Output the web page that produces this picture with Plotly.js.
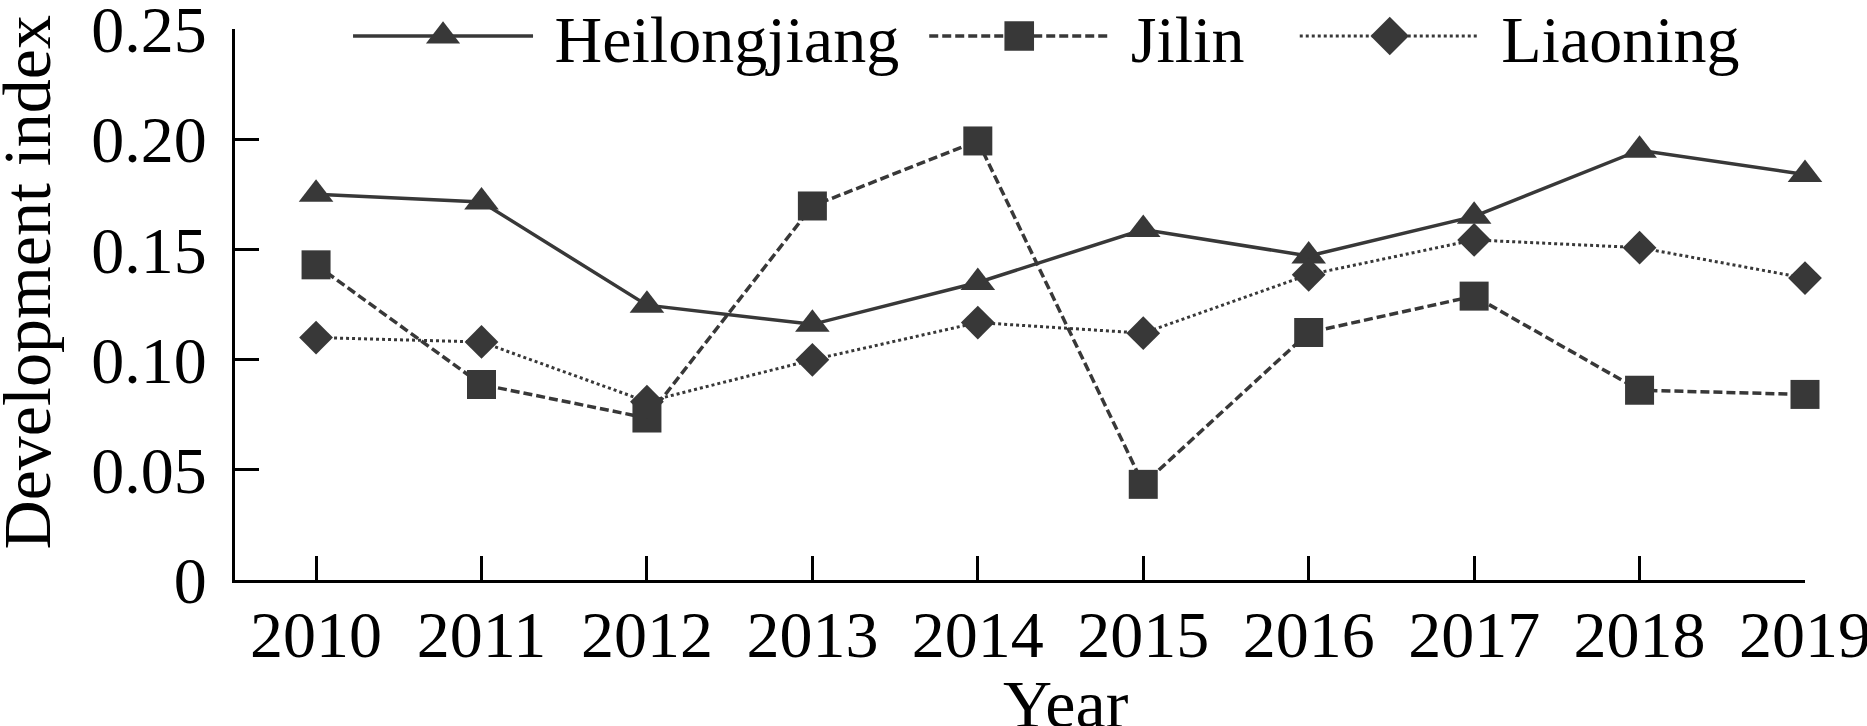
<!DOCTYPE html>
<html>
<head>
<meta charset="utf-8">
<script src="https://cdn.plot.ly/plotly-3.0.1.min.js"></script>
<style>html,body{margin:0;padding:0;background:#fff;}#chart{width:1867px;height:726px;}</style>
</head>
<body>
<div id="chart"></div>
<script>
const years = [2010, 2011, 2012, 2013, 2014, 2015, 2016, 2017, 2018, 2019];
const heilongjiang = [0.175, 0.1715, 0.1247, 0.116, 0.135, 0.159, 0.147, 0.165, 0.195, 0.184];
const jilin = [0.143, 0.0887, 0.0735, 0.1697, 0.1992, 0.0434, 0.1123, 0.1288, 0.0861, 0.0842];
const liaoning = [0.110, 0.108, 0.0809, 0.0999, 0.1168, 0.112, 0.1385, 0.1543, 0.1508, 0.137];
const yTickVals = [0, 0.05, 0.10, 0.15, 0.20, 0.25];
const yTickText = ['0', '0.05', '0.10', '0.15', '0.20', '0.25'];
const seriesNames = ['Heilongjiang', 'Jilin', 'Liaoning'];

const C = '#383838';
const FONT = 'Liberation Serif, Times New Roman, serif';
const FS = 66;
const NB = '\u00a0';

const traces = [
  {x: years, y: heilongjiang, name: NB + seriesNames[0], type: 'scatter', mode: 'lines+markers',
   line: {color: C, width: 3.5, dash: 'solid'},
   marker: {symbol: 'triangle-up', size: 30, color: C}, cliponaxis: false, legend: 'legend'},
  {x: years, y: jilin, name: NB + seriesNames[1], type: 'scatter', mode: 'lines+markers',
   line: {color: C, width: 3.5, dash: '9px,4px'},
   marker: {symbol: 'square', size: 29, color: C}, cliponaxis: false, legend: 'legend2'},
  {x: years, y: liaoning, name: NB + seriesNames[2], type: 'scatter', mode: 'lines+markers',
   line: {color: C, width: 3, dash: '3px,3px'},
   marker: {symbol: 'diamond', size: 26, color: C}, cliponaxis: false, legend: 'legend3'}
];

const legBase = {orientation: 'h', xanchor: 'left', yanchor: 'middle', y: 0.987,
  bgcolor: 'rgba(0,0,0,0)', font: {family: FONT, size: FS, color: '#000'}, itemwidth: 180};

const layout = {
  width: 1867, height: 726,
  margin: {l: 235, r: 62, t: 29, b: 146, pad: 0, autoexpand: false},
  paper_bgcolor: '#fff', plot_bgcolor: '#fff',
  font: {family: FONT, size: FS, color: '#000'},
  showlegend: true,
  legend: Object.assign({}, legBase, {x: 0.072}),
  legend2: Object.assign({}, legBase, {x: 0.439}),
  legend3: Object.assign({}, legBase, {x: 0.675}),
  xaxis: {
    range: [2009.51, 2019], tickmode: 'array', tickvals: years,
    showline: true, linecolor: '#000', linewidth: 3, mirror: false,
    ticks: 'inside', ticklen: 24, tickwidth: 3, tickcolor: '#000',
    showgrid: false, zeroline: false, ticklabelstandoff: -5,
    ticklabeloverflow: 'allow',
    tickfont: {family: FONT, size: FS, color: '#000'}
  },
  yaxis: {
    range: [0, 0.25], tickmode: 'array', tickvals: yTickVals, ticktext: yTickText,
    showline: true, linecolor: '#000', linewidth: 3,
    ticks: 'inside', ticklen: 24, tickwidth: 3, tickcolor: '#000',
    showgrid: false, zeroline: false, ticklabelstandoff: 12,
    ticklabeloverflow: 'allow',
    tickfont: {family: FONT, size: FS, color: '#000'}
  },
  annotations: [
    {text: 'Development index', xref: 'paper', yref: 'paper', x: (-13 - 235) / 1570, y: 0.54,
     xanchor: 'left', yanchor: 'middle', textangle: -90, showarrow: false,
     font: {family: FONT, size: 68, color: '#000'}},
    {text: 'Year', xref: 'paper', yref: 'paper', x: (1066 - 235) / 1570, y: -0.152,
     xanchor: 'center', yanchor: 'top', showarrow: false,
     font: {family: FONT, size: 68, color: '#000'}}
  ]
};

Plotly.newPlot('chart', traces, layout, {displayModeBar: false, staticPlot: true}).then(function (gd) {
  // enlarge legend symbols (Plotly caps legend marker size)
  gd.querySelectorAll('.legendpoints path.scatterpts').forEach(function (p) {
    const t = p.getAttribute('transform') || '';
    p.setAttribute('transform', t + ' scale(1.85)');
  });
});
</script>
</body>
</html>
